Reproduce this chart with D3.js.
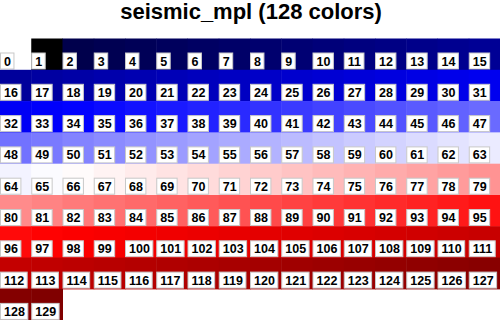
<!DOCTYPE html>
<html>
<head>
<meta charset="utf-8">
<script src="https://cdn.jsdelivr.net/npm/d3@7"></script>
<style>
  html, body { margin: 0; padding: 0; background: #fff; }
  svg { display: block; }
  text { font-family: "Liberation Sans", Arial, Helvetica, sans-serif; font-weight: bold; }
</style>
</head>
<body>
<script>
// colormap definition (matplotlib seismic segment points)
const titleText = 'seismic_mpl (128 colors)';
const stopPositions = [0, 0.25, 0.5, 0.75, 1];
const stopColors = ['#00004c', '#0000ff', '#ffffff', '#ff0000', '#800000'];
const reservedColors = ['#ffffff', '#000000'];   // index 0 = background, 1 = foreground
const nColors = 128;
const nCols = 16;

const width = 500, height = 320;
const gridTop = 38.5, rowH = 31.3;

const cmap = d3.scaleLinear()
    .domain(stopPositions)
    .range(stopColors)
    .interpolate(d3.interpolateRgb);

const cells = d3.range(reservedColors.length + nColors).map(i => ({
    index: i,
    color: i < reservedColors.length ? reservedColors[i]
        : cmap((i - reservedColors.length) / (nColors - 1))
}));

const nRows = Math.ceil(cells.length / nCols);

const svg = d3.select('body').append('svg')
    .attr('width', width)
    .attr('height', height);

const x = d3.scaleBand()
    .domain(d3.range(nCols))
    .range([0, width]);

const y = d3.scaleBand()
    .domain(d3.range(nRows))
    .range([gridTop, gridTop + nRows * rowH]);

// title
svg.append('text')
    .attr('x', 251)
    .attr('y', 19)
    .attr('text-anchor', 'middle')
    .style('font-size', '22px')
    .text(titleText);

const cell = svg.selectAll('g.cell')
    .data(cells)
    .enter().append('g')
    .attr('class', 'cell')
    .attr('transform', d => 'translate(' + x(d.index % nCols) + ',' + y(Math.floor(d.index / nCols)) + ')');

cell.append('rect')
    .attr('width', x.bandwidth() + 0.5)
    .attr('height', y.bandwidth() + 0.5)
    .attr('fill', d => d.color);

// label boxes
const boxTop = 14.5, boxH = 16;
const rects = cell.append('rect')
    .attr('x', 0.5)
    .attr('y', boxTop)
    .attr('height', boxH)
    .attr('fill', '#fff')
    .attr('stroke', '#c8c8c8')
    .attr('stroke-width', 1);

const labels = cell.append('text')
    .attr('x', 4)
    .attr('y', boxTop + boxH - 3.5)
    .style('font-size', '12.5px')
    .attr('fill', '#000')
    .text(d => d.index);

labels.each(function(d) {
    d.tw = this.getComputedTextLength();
});
rects.attr('width', d => d.tw + 6.5);
</script>
</body>
</html>
